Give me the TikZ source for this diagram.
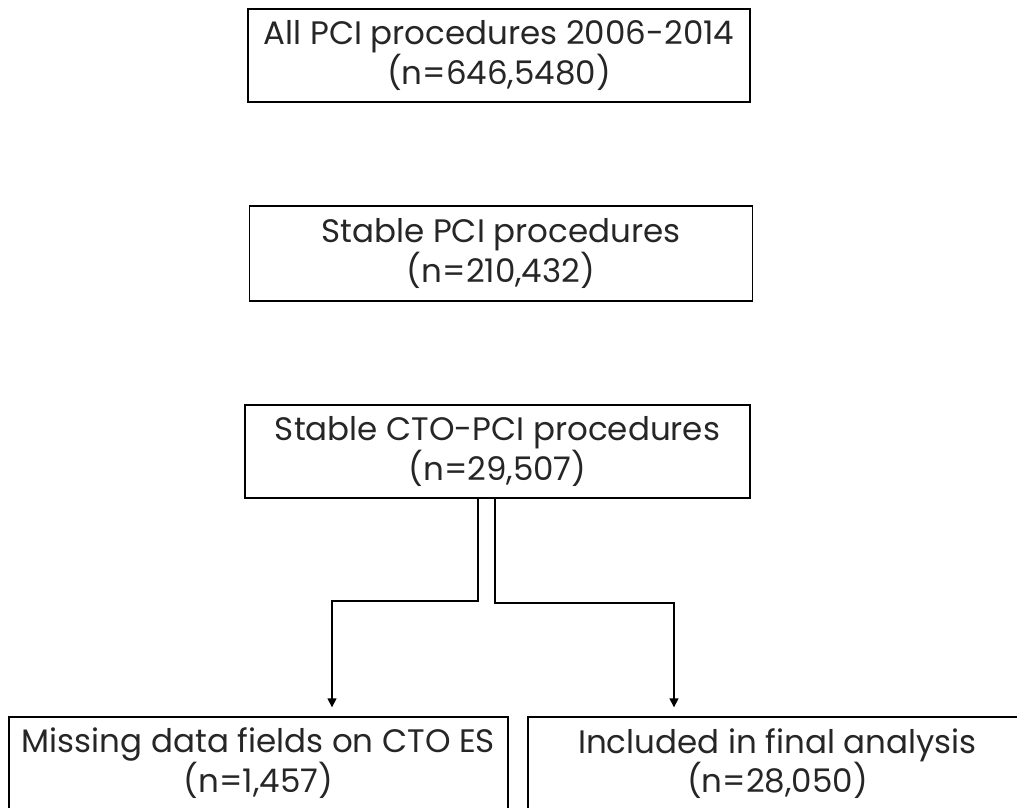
\documentclass[tikz,border=0pt]{standalone}
\usepackage{fontspec}
\setmainfont{Poppins}
\usetikzlibrary{arrows.meta}
\definecolor{textgray}{HTML}{262626}
\tikzset{
  flowbox/.style={draw=black, line width=1.4pt, rectangle, align=center,
    inner sep=0pt, text=textgray,
    font=\fontsize{32.5}{36}\selectfont},
  conn/.style={draw=black, line width=1.4pt,
    -{Triangle[width=9pt,length=9pt]}, shorten >=9pt}
}
\begin{document}
\begin{tikzpicture}[x=1pt,y=-1pt]
\useasboundingbox (0,0) rectangle (1017,807);
\clip (0,0) rectangle (1017,807);
\fill[white] (0,0) rectangle (1017,807);
\node[flowbox, minimum width=502pt, minimum height=93pt] (b1) at (499,55.5)
  {All PCI procedures 2006-2014\\(n=646,5480)};
\node[flowbox, minimum width=503pt, minimum height=95pt] (b2) at (501,253.5)
  {Stable PCI procedures\\(n=210,432)};
\node[flowbox, minimum width=505pt, minimum height=93pt] (b3) at (497.5,451.5)
  {Stable CTO-PCI procedures\\(n=29,507)};
\node[flowbox, minimum width=499pt, minimum height=93pt] (b4) at (258.5,763.5)
  {Missing data fields on CTO ES\\(n=1,457)};
\node[flowbox, minimum width=499pt, minimum height=93pt] (b5) at (777.5,763.5)
  {Included in final analysis\\(n=28,050)};
\coordinate (jl) at (332,601);
\coordinate (jr) at (674,603);
\draw[conn] ([xshift=-19.5pt]b3.south) |- (jl) -- (jl |- b4.north);
\draw[conn] ([xshift=-2.5pt]b3.south) |- (jr) -- (jr |- b5.north);
\end{tikzpicture}
\end{document}
